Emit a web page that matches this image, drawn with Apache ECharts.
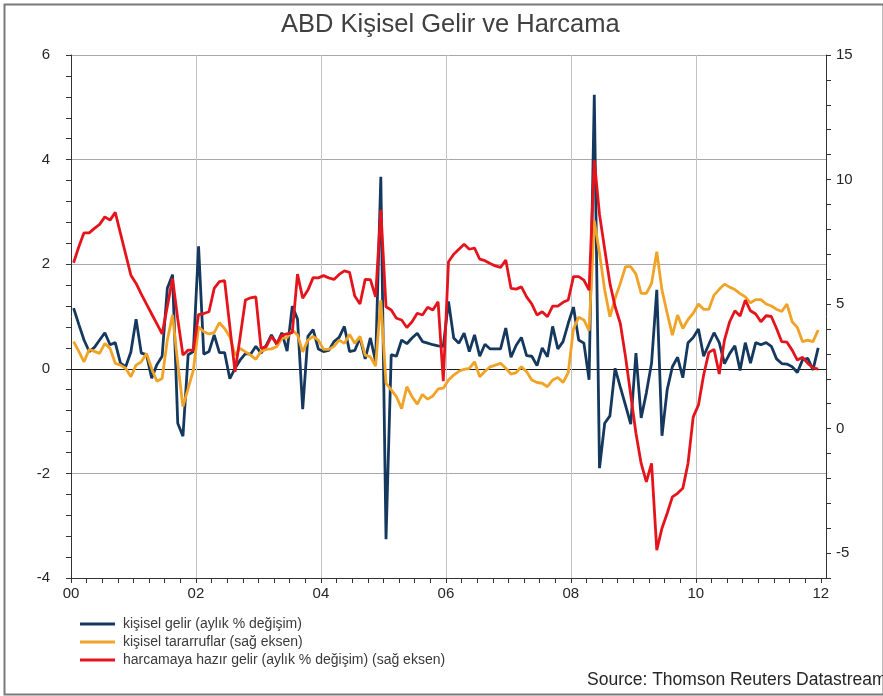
<!DOCTYPE html>
<html>
<head>
<meta charset="utf-8">
<script src="https://cdn.jsdelivr.net/npm/echarts@6/dist/echarts.min.js"></script>
<style>
html,body{margin:0;padding:0;background:#fff;}
#c{width:883px;height:696px;}
</style>
</head>
<body>
<div id="c"></div>
<script>
// Monthly data, Jan 2000 .. Dec 2011
var startYear = 2000;
var leftTicks = [-4, -2, 0, 2, 4, 6];
var rightTickLabels = [-5, 0, 5, 10, 15];
var xTickLabels = ['00', '02', '04', '06', '08', '10', '12'];
var gridYears = [2002, 2004, 2006, 2008, 2010];

// kişisel gelir (aylık % değişim) - left axis
var personalIncome = [
1.16,0.85,0.55,0.33,0.41,0.55,0.69,0.46,0.5,0.11,0.04,0.32,
0.95,0.3,0.27,-0.18,0.08,0.24,1.54,1.8,-1.04,-1.29,0.27,0.33,
2.34,0.28,0.33,0.65,0.31,0.31,-0.19,0.01,0.17,0.29,0.28,0.43,
0.3,0.45,0.65,0.47,0.69,0.34,1.2,0.95,-0.77,0.62,0.75,0.38,
0.33,0.35,0.52,0.6,0.81,0.33,0.35,0.59,0.19,0.59,0.14,3.67,
-3.26,0.27,0.24,0.55,0.48,0.59,0.68,0.52,0.49,0.46,0.44,0.43,
1.29,0.59,0.49,0.68,0.33,0.65,0.24,0.47,0.38,0.38,0.38,0.78,
0.22,0.45,0.6,0.25,0.24,0.06,0.4,0.23,0.81,0.38,0.52,0.87,
1.18,0.55,0.49,-0.21,5.24,-1.9,-1.04,-0.9,0.01,-0.35,-0.7,-1.06,
0.3,-0.94,-0.46,0.11,1.51,-1.28,-0.4,0.04,0.22,-0.17,0.5,0.6,
0.76,0.24,0.47,0.69,0.5,0.1,0.29,0.44,-0.03,0.5,0.11,0.5,
0.46,0.5,0.43,0.19,0.1,0.09,0.04,-0.07,0.17,0.2,-0.02,0.4
];

// kişisel tasarruflar (sağ eksen)
var personalSavings = [
3.49,3.1,2.68,3.18,3.1,3.02,3.42,3.22,2.62,2.55,2.42,2.08,
2.55,2.68,3.02,2.4,1.9,2.01,3.55,4.56,2.64,0.88,1.61,2.35,
4.09,3.89,3.8,3.85,4.25,4.02,3.69,2.95,3.22,3.08,2.95,2.78,
3.1,3.18,3.2,3.29,3.62,3.65,3.96,3.76,3.08,3.55,3.7,3.55,
3.18,3.18,3.3,3.55,3.42,3.78,3.42,3.7,2.95,2.88,2.51,5.16,
1.82,1.55,1.28,0.8,1.68,1.28,0.98,1.37,1.18,1.31,1.59,1.62,
1.95,2.15,2.3,2.38,2.42,2.68,2.08,2.3,2.48,2.55,2.62,2.42,
2.19,2.25,2.48,2.28,1.95,1.85,1.82,1.68,1.95,2.05,1.85,2.25,
4.0,4.47,4.36,3.93,8.35,7.04,5.56,4.49,5.23,5.83,6.5,6.5,
6.2,5.43,5.43,5.83,7.1,5.56,4.63,3.75,4.56,4.02,4.38,4.63,
5.0,4.79,4.79,5.36,5.59,5.8,5.68,5.58,5.42,5.29,5.05,5.18,
5.18,5.0,4.92,4.79,4.7,5.0,4.29,4.06,3.49,3.55,3.49,3.96
];

// harcamaya hazır gelir (aylık % değişim) (sağ eksen)
var disposableIncome = [
6.66,7.3,7.86,7.86,8.04,8.2,8.5,8.37,8.68,7.84,7.0,6.16,
5.83,5.4,5.0,4.6,4.2,3.8,4.9,6.03,4.4,2.95,3.15,3.15,
4.58,4.62,4.69,5.63,5.9,5.94,4.1,2.28,3.7,5.16,5.25,5.29,
3.22,3.29,3.69,3.42,3.75,3.8,3.85,6.2,5.23,5.56,6.06,6.05,
6.14,6.05,5.99,6.19,6.33,6.27,5.32,5.0,5.99,5.98,5.29,8.78,
4.89,4.76,4.43,4.36,4.06,4.29,4.63,4.56,4.87,4.76,5.09,1.9,
6.7,7.0,7.2,7.4,7.2,7.25,6.8,6.74,6.63,6.53,6.47,6.77,
5.63,5.6,5.69,5.29,5.0,4.56,4.69,4.49,4.92,4.92,5.07,5.16,
6.1,6.1,5.96,5.56,10.78,8.6,7.2,5.83,4.89,4.22,2.88,1.35,
-0.19,-1.4,-2.14,-1.4,-4.88,-4.0,-3.4,-2.74,-2.6,-2.4,-1.4,0.47,
0.94,2.15,3.06,3.18,2.19,3.55,4.29,4.73,4.52,5.16,4.73,4.6,
4.29,4.53,4.5,4.02,3.49,3.47,3.15,2.75,2.86,2.62,2.44,2.39
];

var seriesNames = [
  'kişisel gelir (aylık % değişim)',
  'kişisel tararruflar (sağ eksen)',
  'harcamaya hazır gelir (aylık % değişim) (sağ eksen)'
];

// month positions (mid-month) in fractional years
function toPairs(arr) {
  return arr.map(function (v, i) { return [startYear + (i + 0.5) / 12, v]; });
}
var xLabelValues = xTickLabels.map(function (s) { return 2000 + parseInt(s, 10); });
var quarterTicks = [];
for (var q = 0; q <= 48; q++) quarterTicks.push(startYear + q * 0.25);
var rightTicks = [];
for (var r = -6; r <= 15; r++) rightTicks.push(r);

var FONT = 'Liberation Sans, Arial, sans-serif';
var chart = echarts.init(document.getElementById('c'), null, {renderer: 'canvas'});

var markData = [{yAxis: 0, lineStyle: {color: '#1a1a1a', width: 1, type: 'solid'}}].concat(
  gridYears.map(function (y) { return {xAxis: y, lineStyle: {color: '#c4c4c4', width: 1, type: 'solid'}}; })
);

chart.setOption({
  backgroundColor: '#ffffff',
  animation: false,
  title: {
    text: 'ABD Kişisel Gelir ve Harcama',
    left: 276,
    top: 7,
    textStyle: {fontFamily: FONT, fontSize: 25.5, fontWeight: 'normal', color: '#404040'}
  },
  legend: {
    orient: 'vertical',
    left: 75,
    top: 612,
    itemGap: 4,
    itemWidth: 35,
    itemHeight: 3,
    icon: 'rect',
    textStyle: {fontFamily: FONT, fontSize: 14, color: '#3a3a3a', padding: [0, 0, 0, 3]},
    data: seriesNames
  },
  grid: {left: 71, right: 57, top: 55, bottom: 118, containLabel: false},
  xAxis: {
    type: 'value',
    min: 2000,
    max: 2012 + 1 / 12,
    interval: 2,
    axisLine: {show: true, onZero: false, lineStyle: {color: '#333', width: 1}},
    axisTick: {show: true, length: 5, customValues: quarterTicks, lineStyle: {color: '#333'}},
    axisLabel: {
      customValues: xLabelValues,
      fontFamily: FONT, fontSize: 15, color: '#262626', margin: 8,
      formatter: function (v) {
        var idx = xLabelValues.indexOf(Math.round(v));
        return idx >= 0 ? xTickLabels[idx] : '';
      }
    },
    splitLine: {show: false}
  },
  yAxis: [
    {
      type: 'value',
      min: -4, max: 6, interval: 2,
      position: 'left',
      axisLine: {show: true, lineStyle: {color: '#333'}},
      axisTick: {show: true, length: 5, lineStyle: {color: '#333'}},
      minorTick: {show: true, splitNumber: 5, length: 5, lineStyle: {color: '#333'}},
      axisLabel: {fontFamily: FONT, fontSize: 15, color: '#262626', margin: 21},
      splitLine: {show: true, lineStyle: {color: '#a8a8a8', width: 1}}
    },
    {
      type: 'value',
      min: -6, max: 15, interval: 1,
      position: 'right',
      axisLine: {show: true, lineStyle: {color: '#333'}},
      axisTick: {show: true, length: 5, customValues: rightTicks, lineStyle: {color: '#333'}},
      axisLabel: {
        customValues: rightTickLabels,
        fontFamily: FONT, fontSize: 15, color: '#262626', margin: 10
      },
      splitLine: {show: false}
    }
  ],
  series: [
    {
      name: seriesNames[0], type: 'line', yAxisIndex: 0,
      data: toPairs(personalIncome),
      showSymbol: false, symbol: 'none',
      lineStyle: {color: '#15385f', width: 2.8},
      itemStyle: {color: '#15385f'},
      z: 3,
      markLine: {silent: true, symbol: 'none', label: {show: false}, z: 1, animation: false, data: markData}
    },
    {
      name: seriesNames[1], type: 'line', yAxisIndex: 1,
      data: toPairs(personalSavings),
      showSymbol: false, symbol: 'none',
      lineStyle: {color: '#f0a326', width: 2.8},
      itemStyle: {color: '#f0a326'},
      z: 4
    },
    {
      name: seriesNames[2], type: 'line', yAxisIndex: 1,
      data: toPairs(disposableIncome),
      showSymbol: false, symbol: 'none',
      lineStyle: {color: '#e5141c', width: 2.8},
      itemStyle: {color: '#e5141c'},
      z: 5
    }
  ],
  graphic: [
    {
      type: 'rect', left: 2, top: 2, z: 100, silent: true,
      shape: {x: 0, y: 0, width: 879, height: 690},
      style: {fill: 'none', stroke: '#7a7a7a', lineWidth: 2}
    },
    {
      type: 'text', left: 587, top: 671, z: 100, silent: true,
      style: {text: 'Source: Thomson Reuters Datastream', font: '17.5px ' + FONT, fill: '#262626'}
    }
  ]
});
</script>
</body>
</html>
